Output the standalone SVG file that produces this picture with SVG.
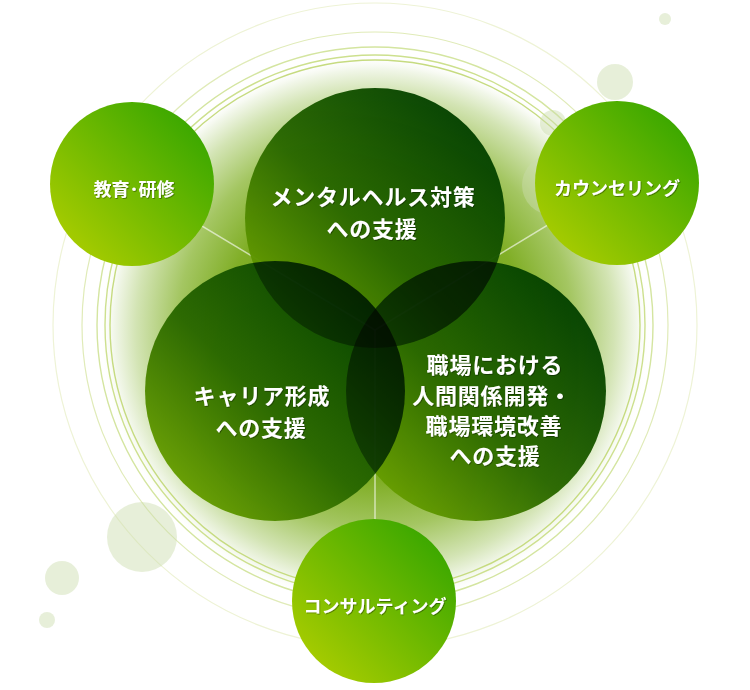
<svg xmlns="http://www.w3.org/2000/svg" width="750" height="690" viewBox="0 0 750 690">
  <defs>
    <radialGradient id="glow" cx="375" cy="330" r="275" gradientUnits="userSpaceOnUse">
      <stop offset="0" stop-color="#5a9410"/>
      <stop offset="0.55" stop-color="#80ae26"/>
      <stop offset="0.72" stop-color="#a4c662"/>
      <stop offset="0.87" stop-color="#d3e4b4"/>
      <stop offset="0.95" stop-color="#f2f7ea"/>
      <stop offset="1" stop-color="#ffffff" stop-opacity="0"/>
    </radialGradient>
    <linearGradient id="dark" x1="0.1" y1="0.9" x2="0.9" y2="0.1">
      <stop offset="0" stop-color="#6ea400"/>
      <stop offset="0.45" stop-color="#2a6800"/>
      <stop offset="1" stop-color="#003e00"/>
    </linearGradient>
    <linearGradient id="light" x1="0.1" y1="0.9" x2="0.9" y2="0.1">
      <stop offset="0" stop-color="#aacd00"/>
      <stop offset="1" stop-color="#37a600"/>
    </linearGradient>
    <filter id="ts" x="-10%" y="-30%" width="120%" height="160%">
      <feDropShadow dx="0.8" dy="0.8" stdDeviation="0.6" flood-color="#000000" flood-opacity="0.45"/>
    </filter>
  </defs>
  <style>
    .ring { fill: none; }
    .deco { fill: #c9dcab; fill-opacity: 0.45; }
    .conn { stroke: #ffffff; stroke-opacity: 0.6; stroke-width: 1.5; fill: none; }
    .big { fill: url(#dark); mix-blend-mode: multiply; }
    .small { fill: url(#light); }
    text { fill: #ffffff; font-family: "Noto Sans CJK JP", "Noto Sans", sans-serif; font-weight: bold; text-anchor: middle; dominant-baseline: central; filter: url(#ts); }
    .tb { font-size: 22px; letter-spacing: 0.8px; }
    .ts { font-size: 18px; }
  </style>

  <!-- background glow -->
  <circle cx="375" cy="330" r="275" fill="url(#glow)"/>

  <!-- concentric rings -->
  <g id="rings">
    <circle class="ring" cx="375" cy="325" r="322" stroke="#eef3d6" stroke-width="1.2"/>
    <circle class="ring" cx="375" cy="325" r="293" stroke="#e0ebb8" stroke-width="1.2"/>
    <circle class="ring" cx="375" cy="325" r="278" stroke="#d4e5a0" stroke-width="1.4"/>
    <circle class="ring" cx="375" cy="325" r="270" stroke="#cde08e" stroke-width="1.4"/>
    <circle class="ring" cx="375" cy="325" r="265" stroke="#c6db80" stroke-width="1.4"/>
  </g>

  <!-- decorative bubbles -->
  <g id="bubbles">
    <circle class="deco" cx="665" cy="19" r="6"/>
    <circle class="deco" cx="615" cy="82" r="18"/>
    <circle class="deco" cx="553" cy="123" r="13"/>
    <circle class="deco" cx="552" cy="185" r="30"/>
    <circle class="deco" cx="142" cy="537" r="35"/>
    <circle class="deco" cx="62" cy="578" r="17"/>
    <circle class="deco" cx="47" cy="620" r="8"/>
  </g>

  <!-- connectors -->
  <g id="connectors">
    <line class="conn" x1="132" y1="184" x2="375" y2="330"/>
    <line class="conn" x1="617" y1="183" x2="375" y2="330"/>
    <line class="conn" x1="375" y1="330" x2="375" y2="601"/>
  </g>

  <!-- large overlapping circles -->
  <g id="core" style="isolation:isolate" opacity="0.97">
    <circle id="mental-circle" class="big" cx="375" cy="218" r="130"/>
    <circle id="career-circle" class="big" cx="275" cy="391" r="130"/>
    <circle id="workplace-circle" class="big" cx="476" cy="391" r="130"/>
  </g>

  <g id="mental">
    <text class="tb" x="373" y="195">メンタルヘルス対策</text>
    <text class="tb" x="372" y="227">への支援</text>
  </g>
  <g id="career">
    <text class="tb" x="262" y="394">キャリア形成</text>
    <text class="tb" x="261" y="426">への支援</text>
  </g>
  <g id="workplace">
    <text class="tb" x="495" y="363">職場における</text>
    <text class="tb" x="492" y="394">人間関係開発・</text>
    <text class="tb" x="494" y="424">職場環境改善</text>
    <text class="tb" x="495" y="454">への支援</text>
  </g>

  <!-- small satellite circles -->
  <g id="education">
    <circle class="small" cx="132" cy="184" r="82"/>
    <text class="ts" x="134" y="188">教育･研修</text>
  </g>
  <g id="counseling">
    <circle class="small" cx="617" cy="183" r="82"/>
    <text class="ts" x="617" y="187">カウンセリング</text>
  </g>
  <g id="consulting">
    <circle class="small" cx="374" cy="601" r="82"/>
    <text class="ts" x="375" y="605">コンサルティング</text>
  </g>
</svg>
